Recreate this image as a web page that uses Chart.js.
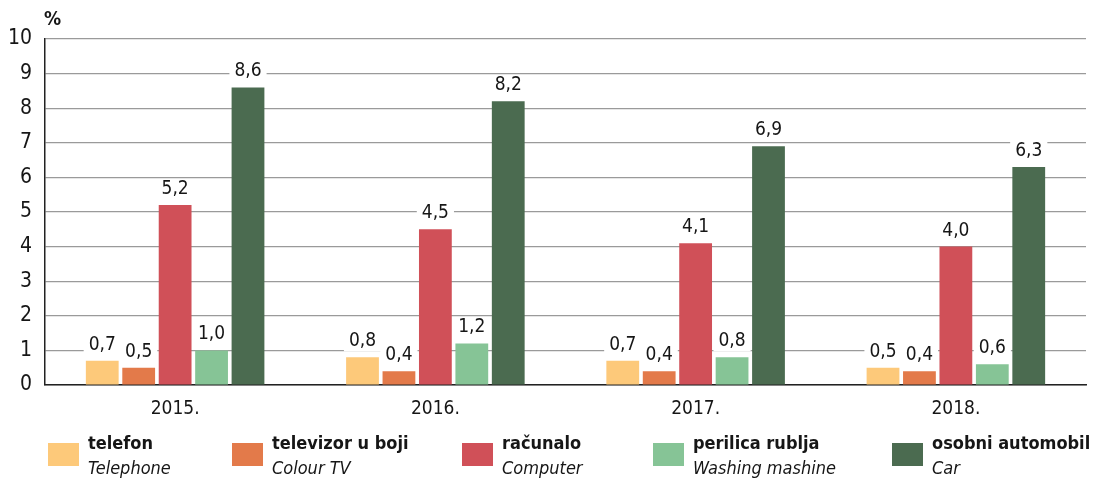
<!DOCTYPE html>
<html>
<head>
<meta charset="utf-8">
<script src="https://cdn.jsdelivr.net/npm/chart.js@4"></script>
<style>
  body { margin: 0; background: #fff; }
  #wrap { width: 1101px; height: 481px; position: relative; }
</style>
</head>
<body>
<div id="wrap"><canvas id="myChart" width="1101" height="481"></canvas></div>
<script>
const years = ['2015.', '2016.', '2017.', '2018.']
const telefon = [0.7, 0.8, 0.7, 0.5]
const televizor = [0.5, 0.4, 0.4, 0.4]
const racunalo = [5.2, 4.5, 4.1, 4.0]
const perilica = [1.0, 1.2, 0.8, 0.6]
const automobil = [8.6, 8.2, 6.9, 6.3]
const namesHr = ['telefon', 'televizor u boji', 'računalo', 'perilica rublja', 'osobni automobil']
const namesEn = ['Telephone', 'Colour TV', 'Computer', 'Washing mashine', 'Car']
const colors = ['#fdc97a', '#e37a4a', '#d05058', '#86c496', '#4b6b50']
const legendX = [48, 232, 462, 653, 892]

const FONT = '"Liberation Sans Narrow", "DejaVu Sans Condensed", "Roboto Condensed", Arial, sans-serif'
const TEXT = '#161616'

// value labels with white box that hides the grid line
const valueLabels = {
  id: 'valueLabels',
  afterDatasetsDraw (chart) {
    const ctx = chart.ctx
    ctx.save()
    ctx.font = '19px ' + FONT
    ctx.textAlign = 'center'
    ctx.textBaseline = 'middle'
    chart.data.datasets.forEach((ds, i) => {
      chart.getDatasetMeta(i).data.forEach((bar, j) => {
        const txt = ds.data[j].toFixed(1).replace('.', ',')
        const w = ctx.measureText(txt).width + 10
        const y = bar.y - 16
        ctx.fillStyle = '#fff'
        ctx.fillRect(bar.x - w / 2, y - 10, w, 20)
        ctx.fillStyle = TEXT
        ctx.fillText(txt, bar.x, y)
      })
    })
    ctx.restore()
  }
}

// two-line legend (bold Croatian + italic English)
const twoLineLegend = {
  id: 'twoLineLegend',
  afterDraw (chart) {
    const ctx = chart.ctx
    ctx.save()
    ctx.textBaseline = 'middle'
    ctx.textAlign = 'left'
    for (let i = 0; i < namesHr.length; i++) {
      const x = legendX[i]
      ctx.fillStyle = colors[i]
      ctx.fillRect(x, 443, 31, 23)
      ctx.fillStyle = TEXT
      ctx.font = 'bold 18px ' + FONT
      ctx.fillText(namesHr[i], x + 40, 444)
      ctx.font = 'italic 18px ' + FONT
      ctx.fillText(namesEn[i], x + 40, 469)
    }
    ctx.font = 'bold 19px ' + FONT
    ctx.fillText('%', 44, 20)
    ctx.restore()
  }
}

const series = [telefon, televizor, racunalo, perilica, automobil]

const ctx = document.getElementById('myChart').getContext('2d')
const myChart = new Chart(ctx, {
  type: 'bar',
  data: {
    labels: years,
    datasets: series.map((d, i) => ({
      label: namesHr[i],
      data: d,
      backgroundColor: colors[i],
      barPercentage: 0.9,
      categoryPercentage: 0.7
    }))
  },
  options: {
    responsive: false,
    animation: false,
    layout: { padding: { top: 39, right: 15, left: 0, bottom: 0 } },
    plugins: {
      legend: { display: false },
      tooltip: { enabled: false }
    },
    scales: {
      x: {
        grid: { display: false, drawTicks: false },
        border: { color: '#222', width: 1.5 },
        ticks: { color: TEXT, font: { family: FONT, size: 19 }, padding: 13 },
        afterFit (scale) { scale.height = 96 }
      },
      y: {
        min: 0,
        max: 10,
        ticks: { stepSize: 1, color: TEXT, font: { family: FONT, size: 21 }, padding: 13 },
        grid: { color: '#9a9a9a', lineWidth: 1.2, drawTicks: false },
        border: { color: '#222', width: 1.5 },
        afterFit (scale) { scale.width = 45 }
      }
    }
  },
  plugins: [valueLabels, twoLineLegend]
})
</script>
</body>
</html>
